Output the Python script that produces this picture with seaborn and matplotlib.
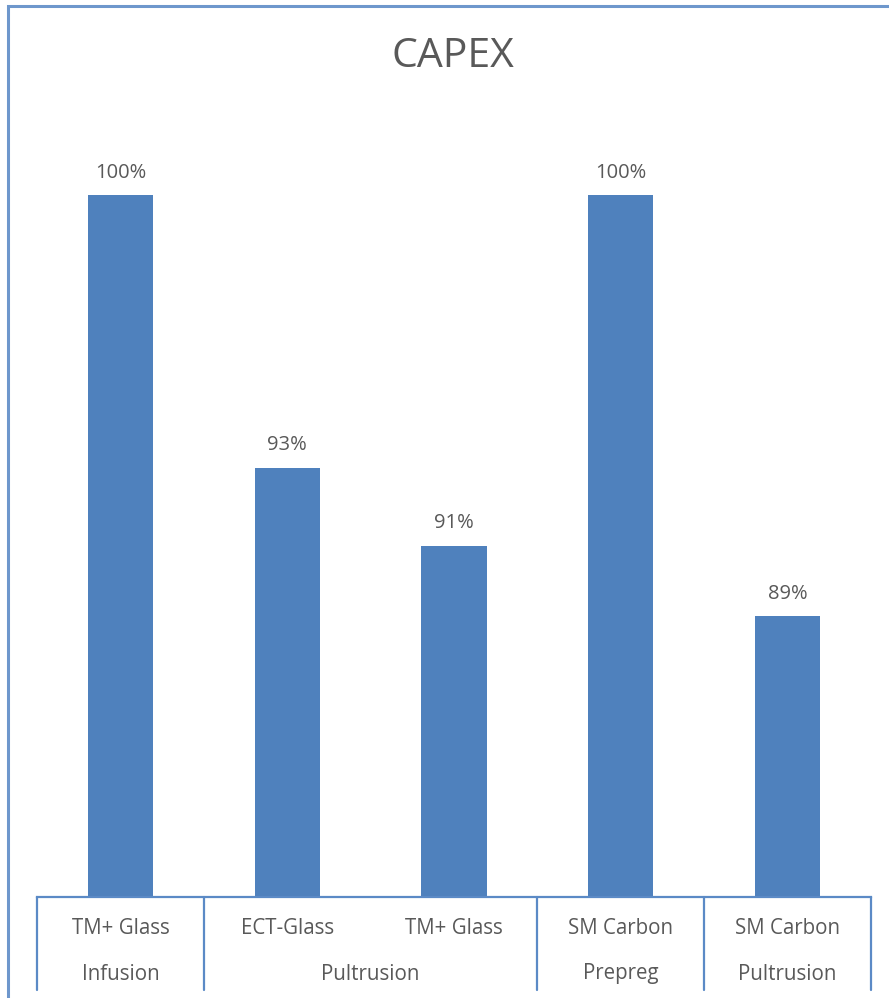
import matplotlib
matplotlib.use("Agg")
import matplotlib.pyplot as plt
import matplotlib.transforms as mtransforms
from matplotlib.patches import Rectangle
import seaborn as sns
import pandas as pd

# ---- data ----
materials = ["TM+ Glass", "ECT-Glass", "TM+ Glass", "SM Carbon", "SM Carbon"]
processes = ["Infusion", "Pultrusion", "Pultrusion", "Prepreg", "Pultrusion"]
capex = [100, 93, 91, 100, 89.2]
groups = ["Infusion", "Pultrusion", "Prepreg", "Pultrusion"]
group_spans = [(0, 0), (1, 2), (3, 3), (4, 4)]
title = "CAPEX"

sns.set_theme(style="white")
plt.rcParams["font.family"] = ["Open Sans", "DejaVu Sans"]

W, H = 889, 998
fig = plt.figure(figsize=(W / 100, H / 100), dpi=100)
ax_left, ax_right = 37 / W, 871 / W
ax_bottom_px, ax_top_px = 897, 150
ax = fig.add_axes([ax_left, (H - ax_bottom_px) / H, ax_right - ax_left,
                   (ax_bottom_px - ax_top_px) / H])

df = pd.DataFrame({"key": [f"{m}|{p}|{i}" for i, (m, p) in enumerate(zip(materials, processes))],
                   "capex": capex})
bar_color = "#4F81BD"
sns.barplot(data=df, x="key", y="capex", color=bar_color, width=0.39,
            saturation=1, ax=ax, order=df["key"].tolist(), linewidth=0)

ymin = 82
ax.set_ylim(ymin, ymin + (ax_bottom_px - ax_top_px) / 39)
ax.set_xlim(-0.5, len(capex) - 0.5)

text_color = "#595959"
ax.bar_label(ax.containers[0], labels=[f"{v:.0f}%" for v in capex],
             padding=9, fontsize=14.5, color=text_color)

for s in ["top", "left", "right"]:
    ax.spines[s].set_visible(False)
line_color = "#5B8AC6"
ax.spines["bottom"].set_color(line_color)
ax.spines["bottom"].set_linewidth(1.6)
ax.set_yticks([])
ax.set_xticks([])
ax.set_xlabel("")
ax.set_ylabel("")

trans = mtransforms.blended_transform_factory(ax.transData, fig.transFigure)


def fy(px):
    return (H - px) / H


# first row of labels
for i, m in enumerate(materials):
    ax.text(i, fy(929), m, transform=trans, ha="center", va="center",
            fontsize=14.8, color=text_color)
# second row: groups
for g, (a, b) in zip(groups, group_spans):
    ax.text((a + b) / 2, fy(974), g, transform=trans, ha="center", va="center",
            fontsize=14.8, color=text_color)
# dividers
for xd in [-0.5, 0.5, 2.5, 3.5, 4.5]:
    ax.plot([xd, xd], [fy(897), fy(990)], transform=trans, color=line_color,
            lw=1.6, clip_on=False)

fig.text(453 / W, fy(57), title, ha="center", va="center", fontsize=29.5,
         color=text_color)

# outer chart border
fig.patches.append(Rectangle((7.5 / W, fy(1100)), 1.2, (1100 - 5.5) / H,
                             transform=fig.transFigure, fill=False,
                             edgecolor="#6E97CC", lw=2.2))

fig.savefig("out.png", dpi=100)
